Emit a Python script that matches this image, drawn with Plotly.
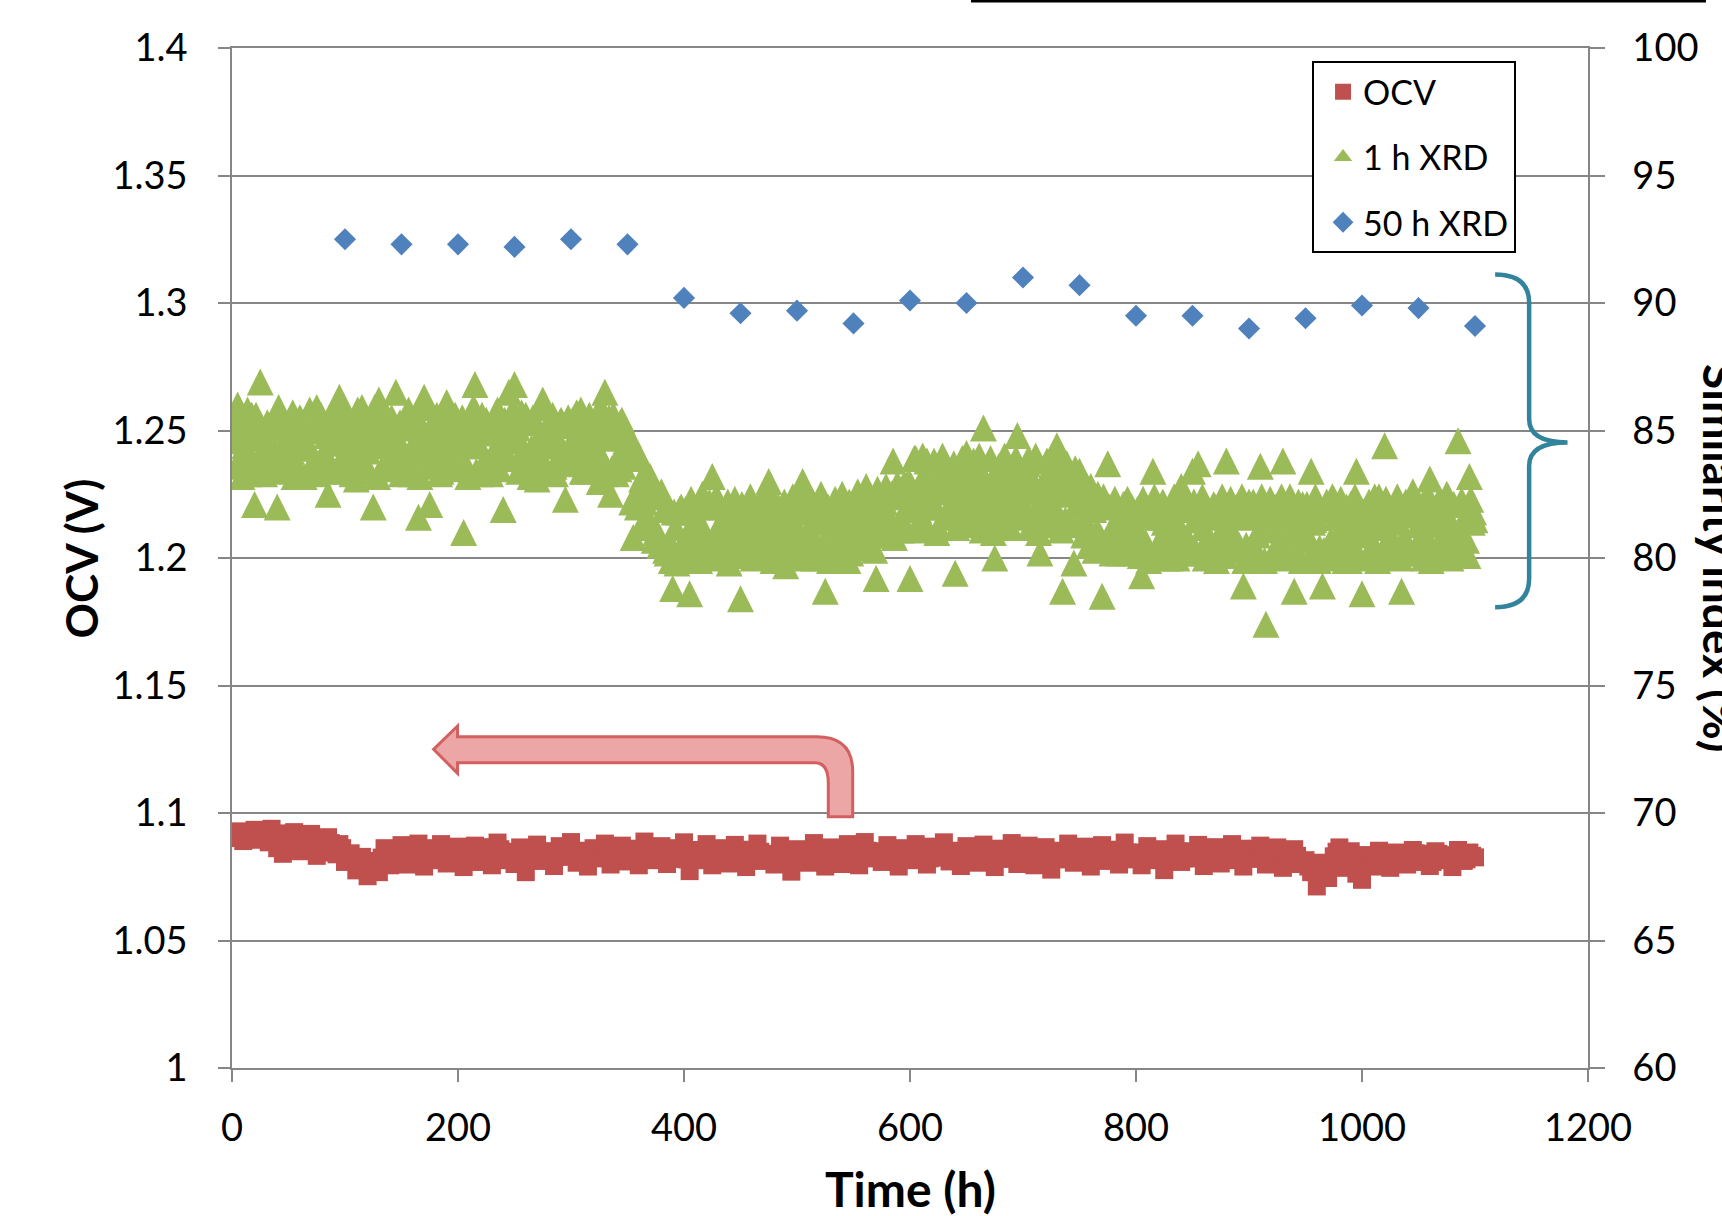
import plotly.graph_objects as go

# ---------------- data ----------------
time_h = [2.5 * i for i in range(1, 441)]            # OCV / XRD sampling times (h)
time_h_mid = [2.5 * i + 1.25 for i in range(440)]     # intermediate XRD readings (h)

ocv_v = [
    1.0915, 1.0928, 1.0902, 1.0890, 1.0925, 1.0912, 1.0908, 1.0934, 1.0920, 1.0895, 1.0930, 1.0918, 1.0885, 1.0938, 1.0910, 1.0862, 1.0875, 1.0840, 1.0920, 1.0905,
    1.0890, 1.0925, 1.0900, 1.0850, 1.0865, 1.0880, 1.0895, 1.0918, 1.0872, 1.0832, 1.0890, 1.0868, 1.0858, 1.0905, 1.0882, 1.0845, 1.0838, 1.0878, 1.0862, 1.0808,
    1.0815, 1.0842, 1.0825, 1.0775, 1.0790, 1.0828, 1.0805, 1.0752, 1.0778, 1.0812, 1.0798, 1.0768, 1.0825, 1.0862, 1.0850, 1.0795, 1.0812, 1.0838, 1.0850, 1.0874,
    1.0842, 1.0798, 1.0818, 1.0836, 1.0858, 1.0880, 1.0826, 1.0790, 1.0832, 1.0850, 1.0862, 1.0815, 1.0835, 1.0878, 1.0852, 1.0802, 1.0818, 1.0842, 1.0828, 1.0868,
    1.0850, 1.0788, 1.0812, 1.0830, 1.0845, 1.0872, 1.0836, 1.0808, 1.0820, 1.0855, 1.0866, 1.0795, 1.0840, 1.0884, 1.0858, 1.0822, 1.0815, 1.0845, 1.0848, 1.0800,
    1.0832, 1.0865, 1.0820, 1.0768, 1.0860, 1.0838, 1.0826, 1.0876, 1.0842, 1.0812, 1.0815, 1.0850, 1.0848, 1.0792, 1.0836, 1.0870, 1.0858, 1.0828, 1.0830, 1.0886,
    1.0840, 1.0805, 1.0818, 1.0845, 1.0852, 1.0790, 1.0830, 1.0862, 1.0848, 1.0825, 1.0822, 1.0880, 1.0858, 1.0798, 1.0815, 1.0840, 1.0835, 1.0872, 1.0850, 1.0810,
    1.0825, 1.0852, 1.0860, 1.0795, 1.0830, 1.0888, 1.0850, 1.0832, 1.0842, 1.0815, 1.0828, 1.0870, 1.0846, 1.0800, 1.0820, 1.0858, 1.0862, 1.0838, 1.0832, 1.0885,
    1.0818, 1.0772, 1.0855, 1.0848, 1.0835, 1.0815, 1.0842, 1.0878, 1.0828, 1.0795, 1.0838, 1.0862, 1.0852, 1.0826, 1.0836, 1.0802, 1.0818, 1.0875, 1.0822, 1.0840,
    1.0835, 1.0788, 1.0820, 1.0856, 1.0845, 1.0880, 1.0848, 1.0812, 1.0820, 1.0835, 1.0840, 1.0798, 1.0830, 1.0872, 1.0848, 1.0825, 1.0812, 1.0770, 1.0822, 1.0858,
    1.0826, 1.0842, 1.0852, 1.0805, 1.0838, 1.0882, 1.0845, 1.0818, 1.0822, 1.0790, 1.0830, 1.0865, 1.0852, 1.0836, 1.0825, 1.0800, 1.0835, 1.0878, 1.0820, 1.0845,
    1.0840, 1.0795, 1.0838, 1.0886, 1.0852, 1.0822, 1.0828, 1.0850, 1.0842, 1.0808, 1.0830, 1.0874, 1.0855, 1.0832, 1.0822, 1.0790, 1.0838, 1.0862, 1.0852, 1.0815,
    1.0825, 1.0878, 1.0858, 1.0840, 1.0835, 1.0798, 1.0822, 1.0868, 1.0850, 1.0825, 1.0832, 1.0885, 1.0845, 1.0810, 1.0826, 1.0852, 1.0836, 1.0792, 1.0818, 1.0870,
    1.0850, 1.0830, 1.0838, 1.0805, 1.0825, 1.0876, 1.0855, 1.0845, 1.0832, 1.0788, 1.0822, 1.0860, 1.0848, 1.0820, 1.0836, 1.0882, 1.0842, 1.0800, 1.0826, 1.0848,
    1.0830, 1.0872, 1.0848, 1.0795, 1.0820, 1.0835, 1.0838, 1.0866, 1.0850, 1.0778, 1.0826, 1.0852, 1.0842, 1.0818, 1.0832, 1.0880, 1.0855, 1.0805, 1.0822, 1.0842,
    1.0835, 1.0868, 1.0822, 1.0790, 1.0852, 1.0830, 1.0842, 1.0874, 1.0830, 1.0812, 1.0838, 1.0856, 1.0850, 1.0798, 1.0828, 1.0884, 1.0845, 1.0825, 1.0818, 1.0840,
    1.0845, 1.0795, 1.0828, 1.0870, 1.0840, 1.0815, 1.0825, 1.0858, 1.0852, 1.0776, 1.0818, 1.0838, 1.0835, 1.0880, 1.0848, 1.0808, 1.0822, 1.0850, 1.0838, 1.0822,
    1.0832, 1.0875, 1.0850, 1.0792, 1.0826, 1.0845, 1.0838, 1.0866, 1.0845, 1.0802, 1.0820, 1.0832, 1.0852, 1.0878, 1.0836, 1.0815, 1.0828, 1.0790, 1.0842, 1.0860,
    1.0845, 1.0828, 1.0820, 1.0872, 1.0838, 1.0798, 1.0830, 1.0848, 1.0825, 1.0865, 1.0846, 1.0785, 1.0822, 1.0835, 1.0840, 1.0858, 1.0832, 1.0800, 1.0808, 1.0815,
    1.0790, 1.0768, 1.0782, 1.0712, 1.0758, 1.0805, 1.0775, 1.0745, 1.0795, 1.0830, 1.0848, 1.0865, 1.0830, 1.0785, 1.0815, 1.0850, 1.0800, 1.0762, 1.0770, 1.0738,
    1.0795, 1.0835, 1.0818, 1.0790, 1.0822, 1.0852, 1.0835, 1.0812, 1.0808, 1.0785, 1.0826, 1.0845, 1.0838, 1.0822, 1.0815, 1.0798, 1.0830, 1.0855, 1.0842, 1.0808,
    1.0818, 1.0840, 1.0830, 1.0792, 1.0808, 1.0850, 1.0840, 1.0818, 1.0815, 1.0835, 1.0826, 1.0788, 1.0822, 1.0855, 1.0838, 1.0812, 1.0818, 1.0845, 1.0832, 1.0826,
]

xrd_1h = [
    84.6, 86.0, 85.2, 84.1, 84.0, 83.3, 85.6, 82.1, 83.8, 86.9, 85.0, 84.9, 84.4, 83.6, 83.5, 82.0, 85.3, 85.4, 84.7, 84.3,
    84.2, 83.2, 83.6, 85.5, 85.1, 84.6, 84.4, 83.5, 83.8, 85.9, 85.3, 84.0, 84.1, 82.5, 83.6, 85.1, 84.8, 86.3, 85.5, 83.4,
    83.9, 84.7, 85.0, 83.1, 84.4, 85.9, 83.4, 84.2, 85.4, 82.0, 84.5, 86.2, 85.1, 83.6, 83.7, 84.9, 84.3, 86.5, 85.2, 83.3,
    84.0, 85.2, 83.5, 84.1, 85.4, 81.6, 84.3, 86.3, 83.8, 82.1, 85.2, 84.6, 84.9, 83.4, 83.6, 86.1, 84.2, 85.0, 85.6, 83.7,
    84.8, 81.0, 83.6, 84.4, 85.1, 86.8, 84.5, 83.3, 83.4, 85.4, 85.0, 84.0, 84.2, 85.8, 85.5, 81.9, 83.9, 86.5, 84.6, 86.8,
    85.1, 83.5, 84.2, 85.6, 83.5, 84.3, 85.4, 83.1, 84.0, 86.2, 83.6, 84.8, 85.2, 83.6, 84.4, 85.3, 83.8, 82.3, 85.5, 84.5,
    84.1, 85.7, 85.0, 83.4, 83.7, 84.9, 84.4, 85.2, 85.3, 83.0, 83.9, 86.5, 84.7, 82.5, 85.6, 83.3, 83.5, 85.4, 84.9, 84.4,
    83.9, 80.8, 82.4, 84.0, 83.1, 82.2, 81.6, 83.2, 82.8, 81.0, 80.9, 82.6, 81.9, 80.2, 80.6, 78.8, 81.2, 81.8, 82.0, 79.9,
    80.9, 78.6, 81.8, 81.4, 79.9, 80.2, 81.1, 82.0, 82.2, 83.2, 80.4, 80.7, 81.2, 81.6, 80.6, 79.8, 81.7, 82.3, 80.3, 78.4,
    81.5, 80.9, 80.3, 81.9, 81.6, 80.1, 80.8, 82.4, 81.9, 83.0, 81.2, 80.5, 80.2, 81.4, 81.7, 79.7, 80.6, 82.1, 81.4, 80.8,
    80.5, 83.0, 81.8, 81.1, 80.9, 80.0, 81.4, 82.2, 80.3, 78.7, 82.0, 81.6, 81.1, 80.4, 80.7, 82.5, 81.5, 79.9, 80.2, 81.3,
    81.8, 80.6, 80.7, 82.6, 82.0, 81.0, 81.4, 79.2, 80.9, 81.7, 82.2, 82.6, 81.5, 83.8, 82.4, 81.3, 81.1, 82.9, 82.0, 79.2,
    82.5, 83.9, 81.9, 81.6, 83.0, 83.8, 82.4, 82.2, 82.0, 81.2, 83.2, 82.8, 81.8, 83.3, 82.6, 79.4, 83.1, 81.6, 82.3, 84.1,
    82.9, 82.3, 81.8, 83.4, 83.4, 85.1, 82.6, 81.4, 81.9, 80.0, 83.2, 82.8, 82.4, 83.6, 83.0, 81.7, 82.1, 84.8, 83.5, 82.2,
    82.6, 83.9, 83.1, 81.3, 81.7, 80.2, 82.4, 82.9, 83.3, 81.8, 81.9, 84.4, 82.7, 78.7, 81.5, 82.5, 83.0, 79.8, 82.1, 83.4,
    82.3, 81.5, 81.2, 82.8, 81.9, 81.0, 80.9, 78.5, 82.1, 83.7, 80.6, 81.2, 81.5, 80.2, 81.0, 82.1, 82.3, 80.8, 80.7, 81.7,
    81.0, 79.3, 80.4, 81.9, 81.6, 83.4, 82.0, 80.5, 80.8, 81.4, 81.8, 80.0, 80.5, 82.2, 81.3, 82.8, 81.9, 80.7, 80.6, 83.4,
    81.5, 83.7, 82.1, 81.2, 80.7, 80.3, 81.6, 82.0, 80.4, 81.0, 81.9, 83.8, 81.2, 80.6, 80.8, 81.8, 81.7, 78.9, 80.5, 82.2,
    81.8, 80.4, 80.9, 83.6, 81.4, 77.4, 82.0, 81.5, 81.1, 80.2, 80.6, 83.8, 81.7, 81.1, 80.9, 78.7, 81.3, 82.0, 82.1, 80.7,
    80.8, 83.4, 81.5, 81.6, 80.4, 78.9, 81.9, 80.3, 80.7, 82.3, 81.6, 81.0, 80.9, 79.9, 81.2, 82.1, 80.5, 83.4, 81.8, 78.6,
    80.9, 81.4, 81.6, 80.5, 80.3, 82.4, 81.2, 84.4, 81.8, 80.9, 80.6, 81.7, 81.4, 78.7, 80.8, 80.2, 81.9, 82.6, 80.4, 81.3,
    81.7, 80.0, 80.8, 83.1, 81.3, 81.9, 82.0, 80.4, 80.6, 82.5, 81.5, 81.1, 81.0, 84.6, 82.2, 80.3, 80.7, 83.2, 81.4, 81.5,
]

xrd_1h_mid = [
    85.5, 83.6, 85.0, 83.2, 84.4, 85.8, 83.5, 84.9, 85.6, 83.9, 84.7, 83.3, 85.3, 84.2, 83.7, 85.1, 85.9, 84.0, 83.4, 85.2,
    84.6, 85.7, 83.5, 84.9, 85.4, 83.2, 84.3, 85.8, 83.7, 85.0, 83.3, 85.6, 84.1, 84.8, 85.5, 83.4, 84.5, 85.9, 83.8, 85.1,
    85.6, 84.0, 83.3, 85.2, 85.8, 83.6, 84.6, 85.4, 83.4, 85.0, 85.9, 83.2, 84.4, 85.7, 83.8, 84.9, 85.5, 83.5, 84.7, 85.3,
    83.7, 85.1, 85.8, 83.3, 84.5, 85.5, 83.2, 84.8, 85.9, 83.6, 85.0, 84.1, 85.6, 83.3, 84.3, 85.2, 85.7, 83.5, 84.6, 85.4,
    83.6, 85.5, 84.7, 83.2, 85.1, 85.9, 83.4, 84.4, 85.6, 83.8, 85.2, 83.3, 84.9, 85.7, 83.5, 84.6, 85.4, 84.0, 85.0, 85.8,
    84.8, 83.4, 85.7, 84.2, 85.3, 83.2, 85.5, 83.9, 84.7, 85.9, 83.5, 85.1, 84.4, 85.6, 83.3, 84.6, 85.4, 83.7, 85.2, 84.1,
    85.4, 83.8, 84.7, 85.8, 83.4, 84.5, 85.6, 83.6, 85.1, 84.2, 85.9, 83.3, 84.8, 85.5, 83.5, 84.9, 83.9, 85.3, 83.6, 84.6,
    84.8, 82.2, 84.3, 82.0, 83.9, 81.4, 83.4, 81.2, 83.0, 80.7, 82.6, 80.5, 82.4, 80.3, 82.0, 79.9, 81.8, 79.8, 81.9, 80.2,
    81.9, 80.1, 82.3, 80.4, 81.6, 79.9, 82.5, 80.8, 80.2, 82.0, 80.5, 82.4, 80.0, 81.5, 80.6, 82.2, 81.0, 80.1, 81.8, 80.7,
    82.1, 80.3, 81.3, 82.4, 80.0, 81.7, 80.6, 82.3, 80.2, 81.5, 82.5, 79.9, 81.0, 82.0, 80.4, 82.2, 80.1, 81.2, 82.4, 80.5,
    80.3, 81.8, 82.4, 80.0, 81.1, 82.2, 80.4, 81.6, 82.5, 80.6, 81.9, 79.9, 81.3, 82.3, 80.2, 81.7, 80.1, 81.0, 82.2, 80.5,
    81.6, 82.6, 80.4, 81.9, 82.8, 80.9, 82.2, 80.3, 82.7, 81.4, 82.4, 82.8, 81.0, 82.5, 80.8, 82.9, 81.5, 82.6, 81.2, 83.0,
    82.8, 83.9, 81.1, 82.9, 84.0, 81.3, 83.3, 82.0, 83.8, 81.0, 82.6, 84.0, 81.6, 83.4, 81.9, 83.7, 81.2, 82.7, 83.9, 81.8,
    83.1, 81.3, 83.8, 82.2, 84.0, 81.1, 83.0, 81.8, 83.9, 81.0, 82.7, 83.6, 81.5, 84.0, 82.1, 81.2, 83.4, 83.9, 81.6, 82.9,
    81.9, 83.7, 81.2, 83.0, 84.0, 81.0, 82.8, 81.6, 83.8, 81.3, 82.9, 83.9, 81.7, 81.1, 83.2, 83.7, 81.4, 82.6, 83.5, 81.3,
    82.7, 80.9, 82.8, 80.5, 82.2, 80.3, 82.5, 80.8, 82.4, 80.4, 82.0, 80.2, 82.3, 80.7, 80.3, 82.1, 81.4, 80.2, 82.0, 80.6,
    81.9, 80.1, 82.3, 80.6, 79.9, 82.0, 82.4, 80.3, 81.6, 82.2, 80.0, 81.8, 80.5, 82.4, 80.0, 82.1, 80.8, 80.2, 82.0, 80.4,
    82.2, 80.2, 81.5, 82.4, 80.0, 81.9, 80.4, 82.1, 79.9, 81.7, 82.4, 80.1, 81.3, 82.3, 80.3, 82.0, 80.5, 82.4, 79.9, 81.6,
    80.4, 82.2, 80.0, 81.8, 82.4, 79.9, 81.6, 82.3, 80.2, 82.0, 80.5, 82.4, 80.0, 81.9, 82.4, 80.1, 81.4, 82.2, 79.9, 81.7,
    82.1, 80.0, 81.4, 82.4, 79.9, 81.9, 80.3, 82.2, 80.5, 82.4, 80.0, 81.6, 82.3, 80.2, 82.0, 79.9, 81.5, 82.4, 80.1, 81.8,
    81.8, 80.0, 82.2, 80.4, 82.4, 79.9, 81.9, 80.2, 82.3, 80.6, 80.1, 82.0, 82.4, 80.0, 81.7, 82.2, 80.3, 81.9, 82.4, 80.5,
    80.2, 82.1, 80.6, 82.4, 79.9, 81.9, 80.4, 82.3, 80.1, 81.7, 82.4, 80.0, 82.1, 80.7, 80.2, 82.2, 81.6, 80.1, 82.3, 81.8,
]

xrd_50h_time = [100, 150, 200, 250, 300, 350, 400, 450, 500, 550, 600,
                650, 700, 750, 800, 850, 900, 950, 1000, 1050, 1100]
xrd_50h = [92.5, 92.3, 92.3, 92.2, 92.5, 92.3, 90.2, 89.6, 89.7, 89.2, 90.1,
           90.0, 91.0, 90.7, 89.5, 89.5, 89.0, 89.4, 89.9, 89.8, 89.1]

x_ticks = [0, 200, 400, 600, 800, 1000, 1200]
y_left_ticks = [1.0, 1.05, 1.1, 1.15, 1.2, 1.25, 1.3, 1.35, 1.4]
y_left_labels = ["1", "1.05", "1.1", "1.15", "1.2", "1.25", "1.3", "1.35", "1.4"]
y_right_ticks = [60, 65, 70, 75, 80, 85, 90, 95, 100]

assert len(ocv_v) == len(time_h) and len(xrd_1h) == len(time_h)
assert len(xrd_1h_mid) == len(time_h_mid)

# ---------------- style ----------------
RED = "#C0504D"
GREEN = "#9BBB59"
BLUE = "#4F81BD"
GRID = "#868686"
FONT = "Lato"

W, H = 1722, 1216
M_L, M_R, M_T, M_B = 232, 134, 48, 148
PLOT_H = H - M_T - M_B
TRI_SIZE = 27
# arrow-up markers hang below their anchor; shift so the triangle is centred on the value
tri_shift = (TRI_SIZE / 2) / PLOT_H * (100 - 60)

xrd_1h_all_time = time_h + time_h_mid
xrd_1h_all = xrd_1h + xrd_1h_mid

fig = go.Figure()
fig.add_trace(go.Scatter(
    x=time_h, y=ocv_v, mode="markers", name="OCV", legendgroup="ocv",
    marker=dict(symbol="square", size=18, color=RED, line=dict(width=0)),
    yaxis="y"))
fig.add_trace(go.Scatter(
    x=[None], y=[None], mode="markers", name="1 h XRD", legendgroup="x1",
    marker=dict(symbol="triangle-up", size=16, color=GREEN, line=dict(width=0)),
    yaxis="y2"))
fig.add_trace(go.Scatter(
    x=xrd_1h_all_time, y=xrd_1h_all, mode="markers", name="1 h XRD", legendgroup="x1",
    showlegend=False,
    marker=dict(symbol="arrow-up", size=TRI_SIZE, color=GREEN, line=dict(width=0)),
    yaxis="y3"))
fig.add_trace(go.Scatter(
    x=xrd_50h_time, y=xrd_50h, mode="markers", name="50 h XRD", legendgroup="x50",
    marker=dict(symbol="diamond", size=17, color=BLUE, line=dict(width=0)),
    yaxis="y2"))

tick_font = dict(family=FONT, size=38, color="black")

fig.update_layout(
    width=W, height=H,
    margin=dict(l=M_L, r=M_R, t=M_T, b=M_B),
    paper_bgcolor="white", plot_bgcolor="white",
    font=dict(family=FONT, color="black"),
    showlegend=True,
    legend=dict(
        x=0.7965, y=0.987, xanchor="left", yanchor="top",
        bgcolor="white", bordercolor="black", borderwidth=2,
        font=dict(family=FONT, size=34, color="black"),
        traceorder="grouped", tracegroupgap=18, indentation=9,
    ),
    xaxis=dict(
        range=[0, 1200], tickmode="array", tickvals=x_ticks,
        ticks="outside", ticklen=12, tickwidth=1.5, tickcolor=GRID,
        showline=True, linecolor=GRID, linewidth=1.5, mirror=True,
        showgrid=False, zeroline=False, tickfont=tick_font,
        ticklabelstandoff=14,
    ),
    yaxis=dict(
        range=[1.0, 1.4], tickmode="array", tickvals=y_left_ticks, ticktext=y_left_labels,
        ticks="outside", ticklen=12, tickwidth=1.5, tickcolor=GRID,
        showline=True, linecolor=GRID, linewidth=1.5,
        showgrid=True, gridcolor=GRID, gridwidth=1.5, zeroline=False,
        tickfont=tick_font, ticklabelstandoff=23,
    ),
    yaxis2=dict(
        range=[60, 100], overlaying="y", side="right", anchor="x",
        tickmode="array", tickvals=y_right_ticks,
        ticks="outside", ticklen=15, tickwidth=1.5, tickcolor=GRID,
        showline=True, linecolor=GRID, linewidth=1.5,
        showgrid=False, zeroline=False, tickfont=tick_font, ticklabelstandoff=20,
    ),
    yaxis3=dict(
        range=[60 - tri_shift, 100 - tri_shift], overlaying="y", anchor="x",
        visible=False, showgrid=False, zeroline=False,
    ),
)

# axis titles
fig.add_annotation(text="<b>OCV (V)</b>", xref="paper", yref="paper",
                   x=-0.111, y=0.5, textangle=-90, showarrow=False,
                   xanchor="center", yanchor="middle",
                   font=dict(family=FONT, size=44, color="black"))
fig.add_annotation(text="<b>Time (h)</b>", xref="paper", yref="paper",
                   x=0.5, y=-0.1186, showarrow=False,
                   xanchor="center", yanchor="middle",
                   font=dict(family=FONT, size=48, color="black"))
fig.add_annotation(text="<b>Similarity index (%)</b>", xref="paper", yref="paper",
                   x=1.098, y=0.5, textangle=90, showarrow=False,
                   xanchor="center", yanchor="middle",
                   font=dict(family=FONT, size=46, color="black"))

# bent arrow pointing to the OCV (left) axis
arrow_path = ("M 178.4,1.12498 L 199.6,1.13412 L 199.6,1.12992 L 517.4,1.12992 "
              "Q 549.3,1.12992 549.3,1.1162 L 549.3,1.09855 L 527.7,1.09855 "
              "L 527.7,1.11165 Q 527.7,1.11973 515.9,1.11973 L 199.6,1.11973 "
              "L 199.6,1.11557 Z")
fig.add_shape(type="path", path=arrow_path, xref="x", yref="y",
              fillcolor="#EBA6A5", line=dict(color="#D26060", width=3), layer="above")

# curly brace grouping the XRD series
brace_path = ("M 1117.8,1.3112 Q 1147.9,1.3112 1147.9,1.3000 L 1147.9,1.2545 "
              "Q 1147.9,1.2453 1181.9,1.2453 Q 1147.9,1.2453 1147.9,1.2361 "
              "L 1147.9,1.1920 Q 1147.9,1.1807 1117.8,1.1807")
fig.add_shape(type="path", path=brace_path, xref="x", yref="y",
              line=dict(color="#31849B", width=4.5), layer="above")

# line from a cropped title at the very top
fig.add_shape(type="line", xref="paper", yref="paper",
              x0=0.545, x1=1.087, y0=1.046, y1=1.046,
              line=dict(color="black", width=3))

fig.write_html(
    "out.html",
    config={"displayModeBar": False},
    post_script="document.body.style.margin='0px'; document.body.style.overflow='hidden';",
)
